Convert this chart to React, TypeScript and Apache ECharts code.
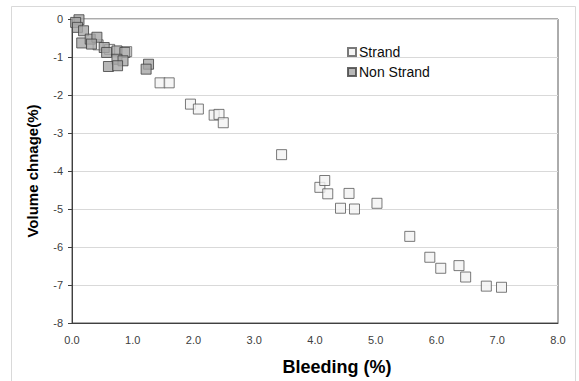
import React, { useEffect, useRef } from "react";
import * as echarts from "echarts";

const strandX = [0.43, 0.62, 0.9, 1.45, 1.6, 1.95, 2.08, 2.34, 2.42, 2.49, 3.45, 4.08, 4.16, 4.21, 4.42, 4.56, 4.65, 5.02, 5.56, 5.89, 6.07, 6.37, 6.48, 6.82, 7.07];
const strandY = [-0.68, -0.8, -0.86, -1.68, -1.68, -2.24, -2.37, -2.53, -2.51, -2.73, -3.57, -4.43, -4.25, -4.6, -4.98, -4.59, -5.0, -4.85, -5.72, -6.27, -6.56, -6.49, -6.79, -7.03, -7.06];

const nonStrandX = [0.115, 0.06, 0.09, 0.19, 0.16, 0.3, 0.41, 0.32, 0.53, 0.57, 0.74, 0.87, 0.74, 0.84, 0.6, 0.75, 1.26, 1.22];
const nonStrandY = [-0.02, -0.09, -0.22, -0.31, -0.63, -0.53, -0.48, -0.66, -0.75, -0.88, -0.84, -0.88, -1.06, -1.1, -1.25, -1.23, -1.19, -1.32];

const seriesNames = ["Strand", "Non Strand"];
const xTitle = "Bleeding (%)";
const yTitle = "Volume chnage(%)";

const FONT = "'Liberation Sans', Arial, sans-serif";

export default function App() {
  const ref = useRef<HTMLDivElement>(null);
  useEffect(() => {
    if (!ref.current) return;
    const chart = echarts.init(ref.current, null, { renderer: "svg" });
    const strand = strandX.map((x, i) => [x, strandY[i]]);
    const nonStrand = nonStrandX.map((x, i) => [x, nonStrandY[i]]);
    chart.setOption({
      animation: false,
      backgroundColor: "#ffffff",
      grid: {
        left: 72,
        right: 21,
        top: 19,
        bottom: 58,
        show: true,
        borderColor: "#595959",
        borderWidth: 1,
      },
      legend: {
        orient: "vertical",
        left: 342,
        top: 40,
        itemWidth: 8,
        itemHeight: 8,
        itemGap: 6,
        icon: "rect",
        data: seriesNames,
        textStyle: { fontFamily: FONT, fontSize: 14, color: "#0d0d0d", padding: [0, 0, 0, -2] },
      },
      xAxis: {
        type: "value",
        min: 0,
        max: 8,
        interval: 1,
        axisLine: { show: true, onZero: false, lineStyle: { color: "#404040", width: 1 } },
        axisTick: { show: false },
        splitLine: { show: false },
        axisLabel: {
          fontFamily: FONT,
          fontSize: 11,
          color: "#404040",
          margin: 11,
          formatter: (v: number) => v.toFixed(1),
        },
      },
      yAxis: {
        type: "value",
        min: -8,
        max: 0,
        interval: 1,
        axisLine: { show: true, onZero: false, lineStyle: { color: "#404040", width: 1 } },
        axisTick: { show: true, inside: false, length: 4, lineStyle: { color: "#404040" } },
        splitLine: { show: true, lineStyle: { color: "#d9d9d9", width: 1 } },
        axisLabel: { fontFamily: FONT, fontSize: 11, color: "#404040", margin: 9 },
      },
      graphic: [
        {
          type: "rect",
          shape: { x: 11.5, y: 6.5, width: 564, height: 400 },
          style: { fill: "none", stroke: "#d9d9d9", lineWidth: 1 },
          silent: true,
          z: -10,
        },
        {
          type: "text",
          x: 337,
          y: 367,
          style: {
            text: xTitle,
            font: `bold 18px ${FONT}`,
            fill: "#000000",
            align: "center",
            verticalAlign: "middle",
          },
        },
        {
          type: "text",
          x: 32,
          y: 171,
          rotation: Math.PI / 2,
          style: {
            text: yTitle,
            font: `bold 15px ${FONT}`,
            fill: "#000000",
            align: "center",
            verticalAlign: "middle",
          },
        },
      ],
      series: [
        {
          name: seriesNames[0],
          type: "scatter",
          symbol: "rect",
          symbolSize: 10,
          data: strand,
          itemStyle: { color: "#f2f2f2", borderColor: "#595959", borderWidth: 1 },
          z: 2,
        },
        {
          name: seriesNames[1],
          type: "scatter",
          symbol: "rect",
          symbolSize: 10,
          data: nonStrand,
          itemStyle: { color: "#a6a6a6", borderColor: "#404040", borderWidth: 1 },
          z: 3,
        },
      ],
    });
    return () => chart.dispose();
  }, []);
  return <div ref={ref} style={{ width: 579, height: 381, position: "absolute", left: 0, top: 0 }} />;
}
